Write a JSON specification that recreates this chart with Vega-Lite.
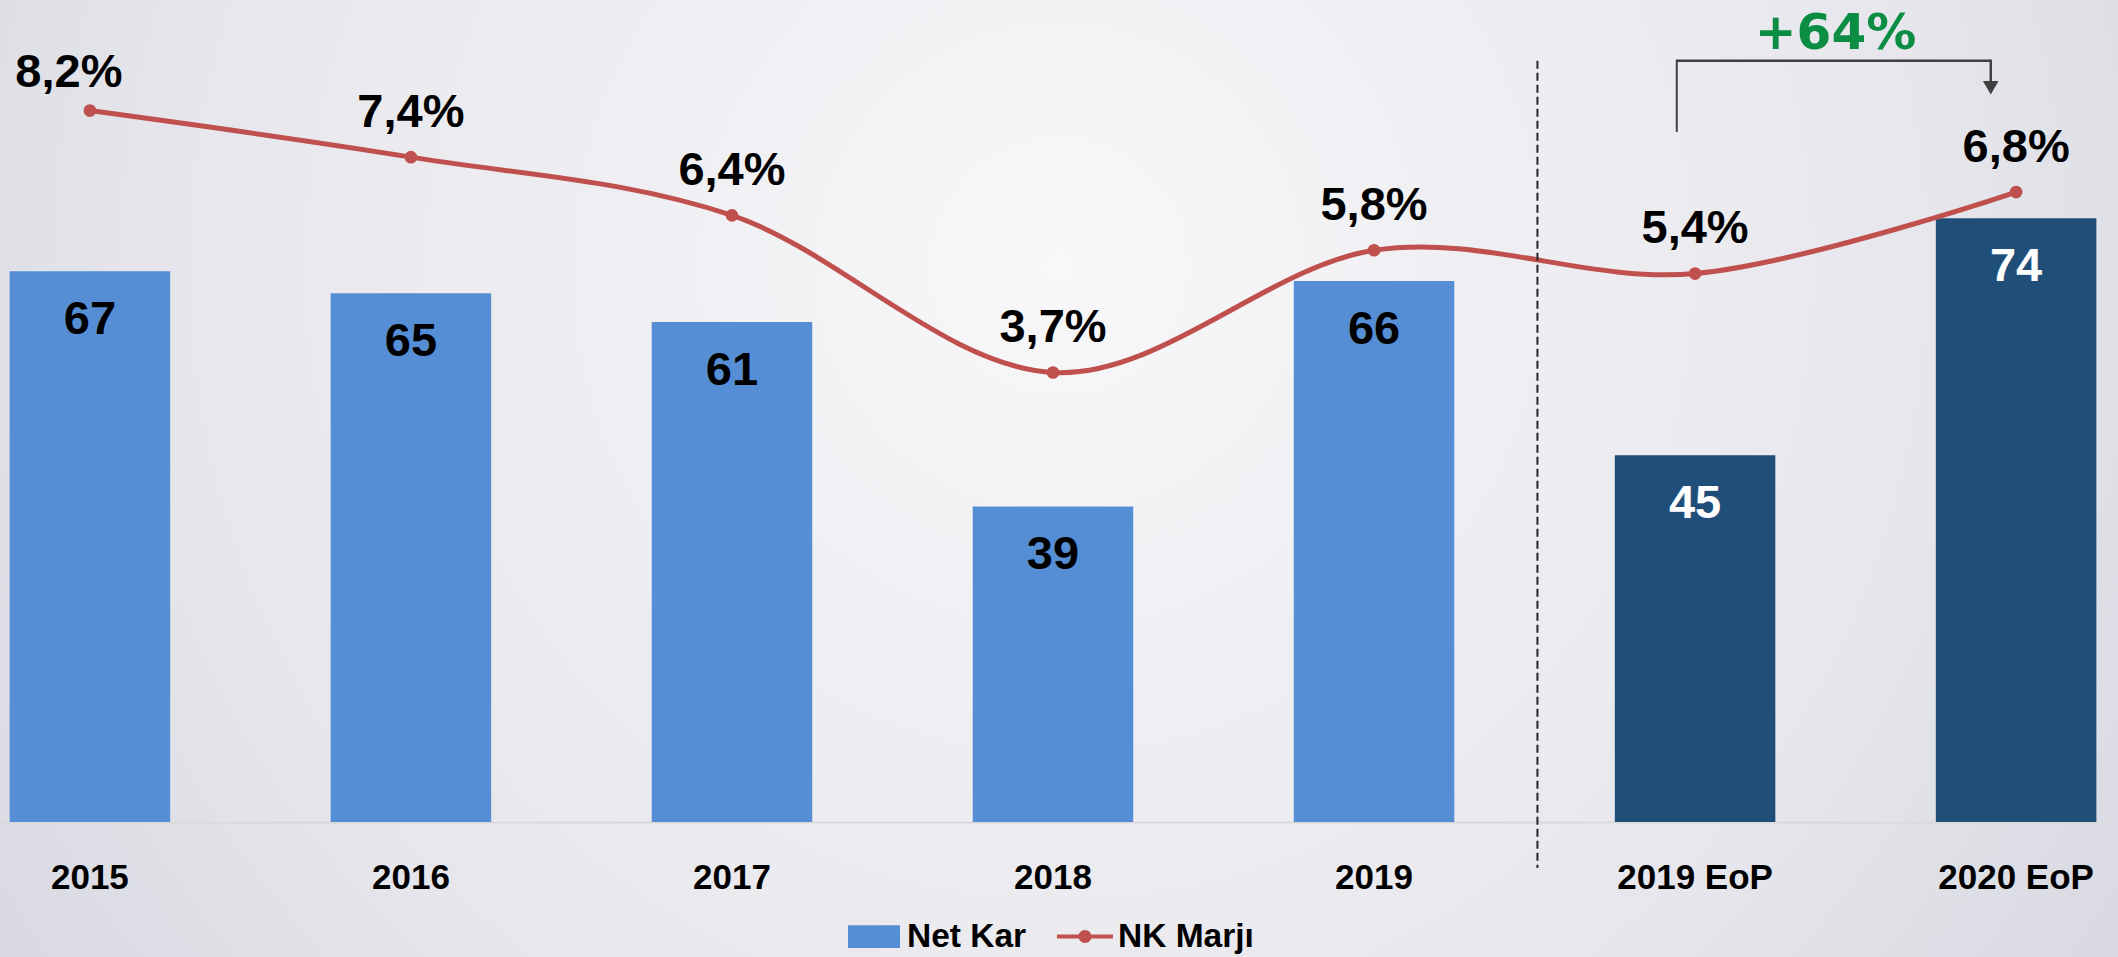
{
  "$schema": "https://vega.github.io/schema/vega-lite/v6.json",
  "width": 2118,
  "height": 957,
  "autosize": {"type": "none"},
  "padding": 0,
  "background": "#E4E4EA",
  "view": {
    "stroke": null,
    "fill": {
      "gradient": "radial",
      "x1": 0.5, "y1": 0.4, "r1": 0,
      "x2": 0.5, "y2": 0.4, "r2": 0.75,
      "stops": [
        {"offset": 0, "color": "#F8F8FA"},
        {"offset": 0.55, "color": "#E6E6EC"},
        {"offset": 1, "color": "#CDCED9"}
      ]
    }
  },
  "config": {
    "locale": {"number": {"decimal": ",", "thousands": ".", "grouping": [3], "currency": ["₺", ""]}},
    "font": "Liberation Sans",
    "axisX": {
      "offset": -135,
      "domainColor": "#D9D9D9",
      "domainWidth": 2,
      "ticks": false,
      "tickSize": 0,
      "labelPadding": 55.8,
      "labelFontSize": 35,
      "labelFontWeight": "bold",
      "labelColor": "#000000",
      "labelFont": "Liberation Sans",
      "labelBaseline": "middle",
      "labelAngle": 0,
      "grid": false
    },
    "legend": {
      "orient": "none",
      "legendX": 846,
      "legendY": 908.3,
      "direction": "horizontal",
      "symbolSize": 3136,
      "symbolStrokeWidth": 0,
      "symbolOpacity": 1,
      "labelFont": "Liberation Sans",
      "labelFontSize": 33.5,
      "labelFontWeight": "bold",
      "labelColor": "#000000",
      "labelOffset": 5,
      "columnPadding": 30,
      "padding": 0,
      "labelLimit": 400
    }
  },
  "datasets": {
    "main": [
      {"year": "2015", "net": 67.4, "margin": 0.082},
      {"year": "2016", "net": 64.7, "margin": 0.074},
      {"year": "2017", "net": 61.2, "margin": 0.064},
      {"year": "2018", "net": 38.6, "margin": 0.037},
      {"year": "2019", "net": 66.2, "margin": 0.058},
      {"year": "2019 EoP", "net": 44.9, "margin": 0.054},
      {"year": "2020 EoP", "net": 73.9, "margin": 0.068}
    ],
    "series": [{"series": "Net Kar"}, {"series": "NK Marjı"}],
    "change": [{"from": "2019 EoP", "to": "2020 EoP", "growth": 0.64}]
  },
  "layer": [
    {
      "data": {"name": "main"},
      "mark": {"type": "bar"},
      "encoding": {
        "x": {"field": "year", "type": "nominal", "title": null, "sort": null,
              "scale": {"domain": ["2015", "2016", "2017", "2018", "2019", "2019 EoP", "2020 EoP"], "range": [0, 2106], "paddingInner": 0.5, "paddingOuter": 0.03}},
        "y": {"field": "net", "type": "quantitative", "scale": {"domain": [-16.52, 100.6]}, "axis": null},
        "y2": {"datum": 0},
        "color": {"condition": {"test": "indexof(datum.year, 'EoP') >= 0", "value": "#1F4E79"}, "value": "#558ED5"}
      }
    },
    {
      "data": {"name": "main"},
      "mark": {"type": "text", "dy": 48.7, "fontSize": 47, "fontWeight": "bold", "baseline": "middle", "align": "center", "font": "Liberation Sans"},
      "encoding": {
        "x": {"field": "year", "type": "nominal", "title": null, "sort": null,
              "scale": {"domain": ["2015", "2016", "2017", "2018", "2019", "2019 EoP", "2020 EoP"], "range": [0, 2106], "paddingInner": 0.5, "paddingOuter": 0.03}},
        "y": {"field": "net", "type": "quantitative", "scale": {"domain": [-16.52, 100.6]}, "axis": null},
        "text": {"field": "net", "type": "quantitative", "format": ".0f"},
        "color": {"condition": {"test": "indexof(datum.year, 'EoP') >= 0", "value": "#FFFFFF"}, "value": "#000000"}
      }
    },
    {
      "data": {"name": "main"},
      "mark": {"type": "line", "interpolate": "cardinal", "color": "#C0504D", "strokeWidth": 5},
      "encoding": {
        "x": {"field": "year", "type": "nominal", "title": null, "sort": null,
              "scale": {"domain": ["2015", "2016", "2017", "2018", "2019", "2019 EoP", "2020 EoP"], "range": [0, 2106], "paddingInner": 0.5, "paddingOuter": 0.03}},
        "y": {"field": "margin", "type": "quantitative", "scale": {"domain": [-0.06342, 0.101]}, "axis": null}
      }
    },
    {
      "data": {"name": "main"},
      "mark": {"type": "point", "filled": true, "size": 160, "color": "#C0504D", "opacity": 1},
      "encoding": {
        "x": {"field": "year", "type": "nominal", "title": null, "sort": null,
              "scale": {"domain": ["2015", "2016", "2017", "2018", "2019", "2019 EoP", "2020 EoP"], "range": [0, 2106], "paddingInner": 0.5, "paddingOuter": 0.03}},
        "y": {"field": "margin", "type": "quantitative", "scale": {"domain": [-0.06342, 0.101]}, "axis": null}
      }
    },
    {
      "data": {"name": "main"},
      "transform": [{"filter": "datum.year != '2015'"}],
      "mark": {"type": "text", "dy": -44.3, "fontSize": 47, "fontWeight": "bold", "baseline": "middle", "align": "center", "color": "#000000", "font": "Liberation Sans"},
      "encoding": {
        "x": {"field": "year", "type": "nominal", "title": null, "sort": null,
              "scale": {"domain": ["2015", "2016", "2017", "2018", "2019", "2019 EoP", "2020 EoP"], "range": [0, 2106], "paddingInner": 0.5, "paddingOuter": 0.03}},
        "y": {"field": "margin", "type": "quantitative", "scale": {"domain": [-0.06342, 0.101]}, "axis": null},
        "text": {"field": "margin", "type": "quantitative", "format": ".1%"}
      }
    },
    {
      "data": {"name": "main"},
      "transform": [{"filter": "datum.year == '2015'"}],
      "mark": {"type": "text", "dx": -21, "dy": -37.7, "fontSize": 47, "fontWeight": "bold", "baseline": "middle", "align": "center", "color": "#000000", "font": "Liberation Sans"},
      "encoding": {
        "x": {"field": "year", "type": "nominal", "title": null, "sort": null,
              "scale": {"domain": ["2015", "2016", "2017", "2018", "2019", "2019 EoP", "2020 EoP"], "range": [0, 2106], "paddingInner": 0.5, "paddingOuter": 0.03}},
        "y": {"field": "margin", "type": "quantitative", "scale": {"domain": [-0.06342, 0.101]}, "axis": null},
        "text": {"field": "margin", "type": "quantitative", "format": ".1%"}
      }
    },
    {
      "data": {"name": "change"},
      "mark": {"type": "rule", "color": "#262626", "strokeWidth": 2, "strokeDash": [8, 4]},
      "encoding": {
        "x": {"field": "from", "type": "nominal", "title": null, "bandPosition": -0.482,
              "scale": {"domain": ["2015", "2016", "2017", "2018", "2019", "2019 EoP", "2020 EoP"], "range": [0, 2106], "paddingInner": 0.5, "paddingOuter": 0.03}},
        "y": {"datum": 93.15, "type": "quantitative", "scale": {"domain": [-16.52, 100.6]}, "axis": null},
        "y2": {"datum": -5.63}
      }
    },
    {
      "data": {"name": "change"},
      "mark": {"type": "rule", "color": "#404040", "strokeWidth": 2.5},
      "encoding": {
        "x": {"field": "from", "type": "nominal", "title": null, "bandPosition": 0.386,
              "scale": {"domain": ["2015", "2016", "2017", "2018", "2019", "2019 EoP", "2020 EoP"], "range": [0, 2106], "paddingInner": 0.5, "paddingOuter": 0.03}},
        "x2": {"field": "to", "bandPosition": 0.342},
        "y": {"datum": 93.15, "type": "quantitative", "scale": {"domain": [-16.52, 100.6]}, "axis": null}
      }
    },
    {
      "data": {"name": "change"},
      "mark": {"type": "rule", "color": "#404040", "strokeWidth": 2},
      "encoding": {
        "x": {"field": "from", "type": "nominal", "title": null, "bandPosition": 0.386,
              "scale": {"domain": ["2015", "2016", "2017", "2018", "2019", "2019 EoP", "2020 EoP"], "range": [0, 2106], "paddingInner": 0.5, "paddingOuter": 0.03}},
        "y": {"datum": 93.3, "type": "quantitative", "scale": {"domain": [-16.52, 100.6]}, "axis": null},
        "y2": {"datum": 84.45}
      }
    },
    {
      "data": {"name": "change"},
      "mark": {"type": "rule", "color": "#404040", "strokeWidth": 2.5},
      "encoding": {
        "x": {"field": "to", "type": "nominal", "title": null, "bandPosition": 0.342,
              "scale": {"domain": ["2015", "2016", "2017", "2018", "2019", "2019 EoP", "2020 EoP"], "range": [0, 2106], "paddingInner": 0.5, "paddingOuter": 0.03}},
        "y": {"datum": 93.3, "type": "quantitative", "scale": {"domain": [-16.52, 100.6]}, "axis": null},
        "y2": {"datum": 90.6}
      }
    },
    {
      "data": {"name": "change"},
      "mark": {"type": "point", "shape": "triangle-down", "filled": true, "size": 246, "color": "#404040", "opacity": 1},
      "encoding": {
        "x": {"field": "to", "type": "nominal", "title": null, "bandPosition": 0.342,
              "scale": {"domain": ["2015", "2016", "2017", "2018", "2019", "2019 EoP", "2020 EoP"], "range": [0, 2106], "paddingInner": 0.5, "paddingOuter": 0.03}},
        "y": {"datum": 89.86, "type": "quantitative", "scale": {"domain": [-16.52, 100.6]}, "axis": null}
      }
    },
    {
      "data": {"name": "change"},
      "mark": {"type": "text", "dx": 140.4, "fontSize": 50, "fontWeight": "bold", "font": "DejaVu Sans", "baseline": "middle", "align": "center", "color": "#0B8E43"},
      "encoding": {
        "x": {"field": "from", "type": "nominal", "title": null, "bandPosition": 0.5,
              "scale": {"domain": ["2015", "2016", "2017", "2018", "2019", "2019 EoP", "2020 EoP"], "range": [0, 2106], "paddingInner": 0.5, "paddingOuter": 0.03}},
        "y": {"datum": 96.49, "type": "quantitative", "scale": {"domain": [-16.52, 100.6]}, "axis": null},
        "text": {"field": "growth", "type": "quantitative", "format": "+.0%"}
      }
    },
    {
      "data": {"name": "series"},
      "mark": {"type": "point", "filled": true, "opacity": 0},
      "encoding": {
        "color": {"field": "series", "type": "nominal", "title": null,
                  "scale": {"domain": ["Net Kar", "NK Marjı"], "range": ["#558ED5", "#C0504D"]}},
        "shape": {"field": "series", "type": "nominal", "title": null,
                  "scale": {"domain": ["Net Kar", "NK Marjı"], "range": [
                    "M-0.929,-0.405L0.929,-0.405L0.929,0.405L-0.929,0.405Z",
                    "M-1,-0.0714L1,-0.0714L1,0.0714L-1,0.0714Z M-0.232,0A0.232,0.232 0 1,1 0.232,0A0.232,0.232 0 1,1 -0.232,0Z"
                  ]}}
      }
    }
  ],
  "resolve": {"scale": {"y": "independent"}}
}
